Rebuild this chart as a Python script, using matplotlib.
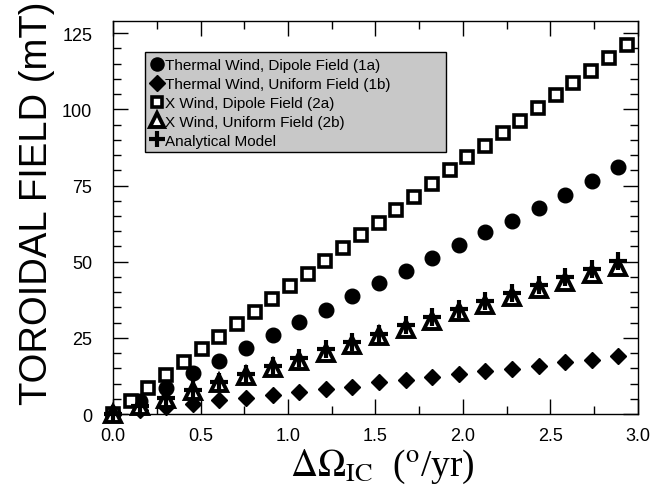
import matplotlib
matplotlib.use("Agg")
import matplotlib.pyplot as plt
from matplotlib.patches import Rectangle
from matplotlib.ticker import MultipleLocator

plt.rcParams["font.family"] = ["Liberation Sans", "DejaVu Sans"]
plt.rcParams["mathtext.fontset"] = "stix"

# delta omega (deg/yr) for the 20-point runs
dw = [0.0, 0.152, 0.304, 0.456, 0.608, 0.76, 0.912, 1.064, 1.216, 1.368,
      1.52, 1.672, 1.824, 1.976, 2.128, 2.28, 2.432, 2.584, 2.736, 2.888]
thermal_dipole = [0.0, 4.3, 8.7, 13.3, 17.5, 21.6, 25.9, 30.1, 34.3, 38.6,
                  42.9, 47.0, 51.1, 55.6, 59.6, 63.4, 67.5, 71.8, 76.4, 81.0]
thermal_uniform = [0.0, 1.3, 2.4, 3.4, 4.7, 5.4, 6.3, 7.2, 8.2, 9.0,
                   10.4, 11.2, 12.2, 13.1, 14.2, 14.8, 15.9, 17.0, 17.8, 18.9]
x_uniform = [0.0, 2.5, 5.0, 7.6, 10.2, 12.6, 15.0, 17.5, 20.0, 22.6,
             25.5, 27.9, 30.6, 33.4, 35.8, 38.3, 41.0, 43.2, 45.9, 48.1]
analytical = [0.0, 2.6, 5.3, 7.9, 10.6, 13.2, 15.9, 18.5, 21.2, 23.8,
              26.4, 29.1, 31.7, 34.4, 37.0, 39.7, 42.3, 45.0, 47.6, 50.3]

# X wind, dipole field was run on a finer grid
dw_fine = [0.0, 0.101, 0.202, 0.304, 0.405, 0.506, 0.607, 0.708, 0.81, 0.911,
           1.012, 1.113, 1.214, 1.316, 1.417, 1.518, 1.619, 1.72, 1.822, 1.923,
           2.024, 2.125, 2.226, 2.328, 2.429, 2.53, 2.631, 2.732, 2.834, 2.935]
x_dipole = [0.0, 4.4, 8.5, 12.9, 17.2, 21.2, 25.4, 29.6, 33.6, 37.7,
            42.0, 46.1, 50.3, 54.5, 58.7, 62.8, 67.0, 71.2, 75.6, 80.0,
            84.2, 88.1, 92.4, 96.3, 100.6, 104.7, 108.8, 112.7, 116.7, 121.1]

fig = plt.figure(figsize=(6.54, 4.89), dpi=100)
ax = fig.add_axes([0.1728, 0.1513, 0.8027, 0.8037])

ax.plot(dw, thermal_dipole, "o", color="black", ms=10.5, clip_on=False,
        label="Thermal Wind, Dipole Field (1a)")
ax.plot(dw, thermal_uniform, "D", color="black", ms=8.5, clip_on=False,
        label="Thermal Wind, Uniform Field (1b)")
ax.plot(dw_fine, x_dipole, "s", mfc="white", mec="black", mew=2.6, ms=8.5,
        clip_on=False, label="X Wind, Dipole Field (2a)")
ax.plot(dw, x_uniform, "^", mfc="white", mec="black", mew=2.8, ms=11.5,
        clip_on=False, label="X Wind, Uniform Field (2b)")
ax.plot(dw, analytical, "+", color="black", mew=3, ms=13, clip_on=False,
        label="Analytical Model")

ax.set_xlim(0, 3.0)
ax.set_ylim(0, 129)
ax.xaxis.set_major_locator(MultipleLocator(0.5))
ax.xaxis.set_minor_locator(MultipleLocator(0.25))
ax.yaxis.set_major_locator(MultipleLocator(25))
ax.yaxis.set_minor_locator(MultipleLocator(5))
ax.xaxis.set_major_formatter(plt.FormatStrFormatter("%.1f"))
ax.tick_params(which="both", direction="in", top=True, right=True,
               labelsize=13, width=1)
ax.tick_params(which="major", length=11)
ax.tick_params(which="minor", length=6)
ax.tick_params(axis="x", which="major", pad=9)
ax.tick_params(axis="y", which="major", pad=15)
for s in ax.spines.values():
    s.set_linewidth(1)

ax.set_ylabel("TOROIDAL FIELD (mT)", fontsize=27.5)
ax.yaxis.set_label_coords(-0.11, 0.54)
ax.set_xlabel(r"$\Delta\Omega_{\rm IC}$  ($^{\rm o}$/yr)", fontsize=27,
              family="Liberation Serif")
ax.xaxis.set_label_coords(0.514, -0.083)

# grey legend panel, wider than its text as in the original
ax.add_patch(Rectangle((0.061, 0.667), 0.573, 0.254, transform=ax.transAxes,
                       facecolor="#c8c8c8", edgecolor="black", lw=1,
                       zorder=3))
leg = ax.legend(loc="upper left", bbox_to_anchor=(0.061, 0.921), fontsize=11,
                frameon=False, handlelength=0.8, handletextpad=0.1,
                borderpad=0.4, labelspacing=0.32, markerscale=0.9,
                borderaxespad=0)
leg.set_zorder(4)

fig.savefig("out.png", dpi=100)
